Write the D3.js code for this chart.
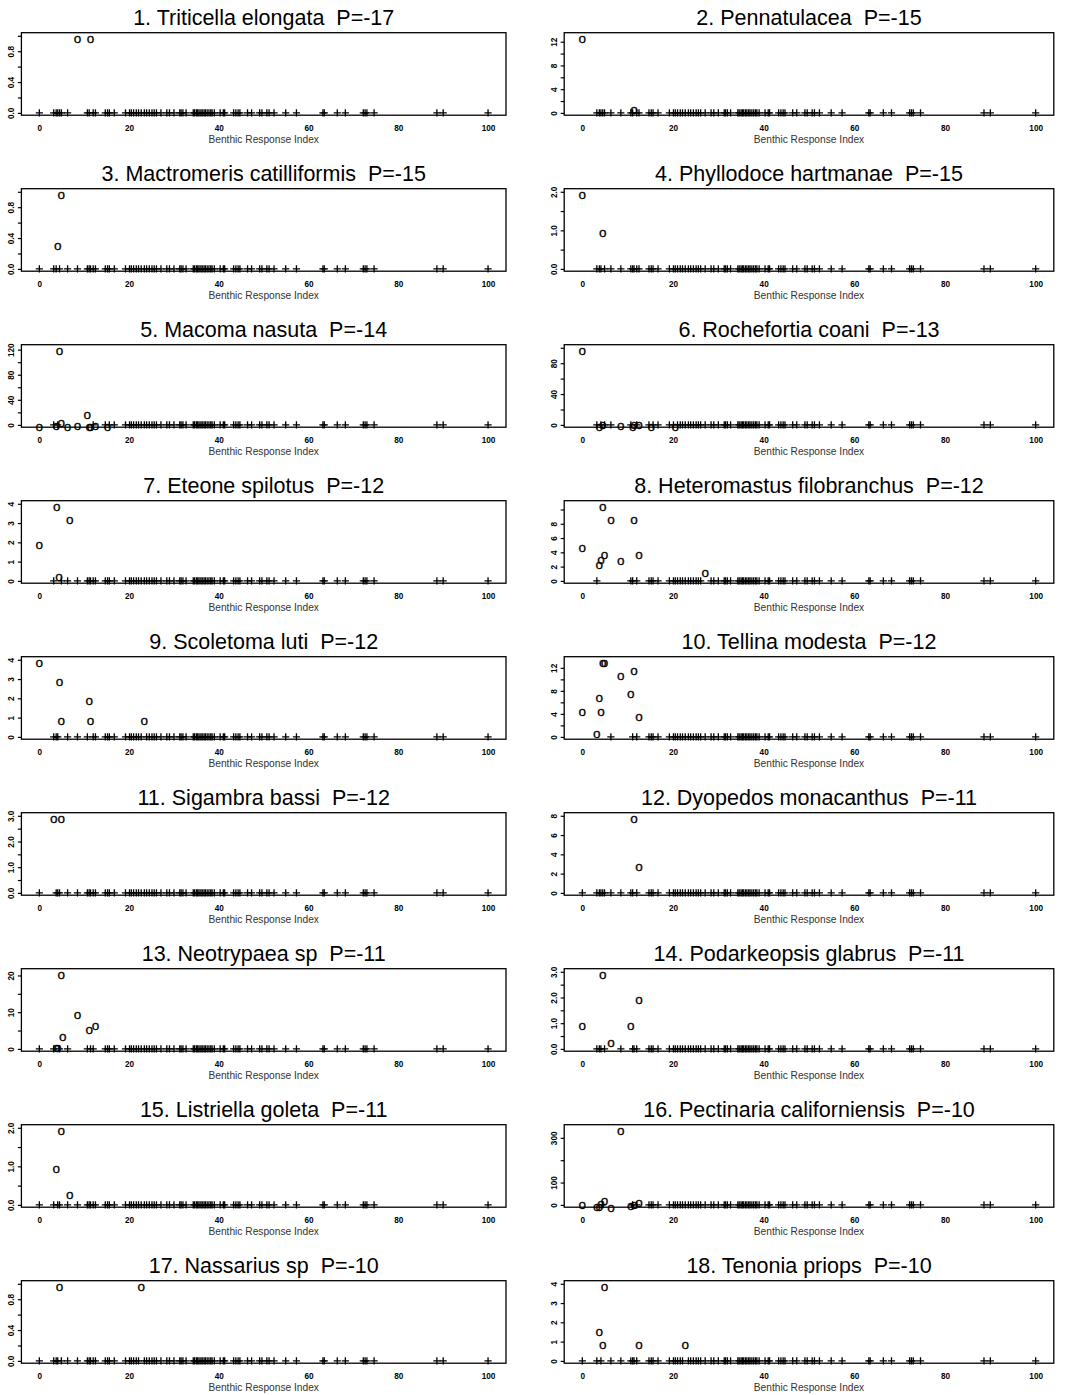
<!DOCTYPE html>
<html>
<head>
<meta charset="utf-8">
<script src="https://cdn.jsdelivr.net/npm/d3@7"></script>
<style>
  body { margin: 0; background: #fff; }
  svg { display: block; }
  text { font-family: "Liberation Sans", Arial, sans-serif; white-space: pre; }
</style>
</head>
<body>
<svg id="chart" width="1065" height="1395"></svg>
<script>
// panel titles, in order (left to right, top to bottom)
var titles = [
  "1. Triticella elongata  P=-17", "2. Pennatulacea  P=-15",
  "3. Mactromeris catilliformis  P=-15", "4. Phyllodoce hartmanae  P=-15",
  "5. Macoma nasuta  P=-14", "6. Rochefortia coani  P=-13",
  "7. Eteone spilotus  P=-12", "8. Heteromastus filobranchus  P=-12",
  "9. Scoletoma luti  P=-12", "10. Tellina modesta  P=-12",
  "11. Sigambra bassi  P=-12", "12. Dyopedos monacanthus  P=-11",
  "13. Neotrypaea sp  P=-11", "14. Podarkeopsis glabrus  P=-11",
  "15. Listriella goleta  P=-11", "16. Pectinaria californiensis  P=-10",
  "17. Nassarius sp  P=-10", "18. Tenonia priops  P=-10"
];

// benthic response index of every station (zeros are drawn as +)
var sites = [0, 3.2, 3.75, 4.1, 4.5, 4.9, 6.3, 8.5, 10.7, 11.1, 11.4, 12.0, 12.5,
  14.7, 15.2, 15.6, 16.7, 19.2, 20.1, 20.5, 21.0, 21.6, 22.1, 22.7, 23.4, 23.9,
  24.5, 25.1, 25.6, 26.1, 27.1, 28.4, 29.0, 30.0, 31.3, 31.6, 32.0, 32.7, 34.3,
  34.6, 35.0, 35.3, 35.6, 36.0, 36.3, 36.7, 37.0, 37.4, 37.8, 38.2, 38.5, 39.0,
  40.3, 41.0, 41.3, 43.3, 43.8, 44.3, 44.7, 46.4, 47.3, 49.1, 49.6, 50.7, 51.2,
  52.3, 54.9, 57.3, 63.2, 63.5, 66.4, 68.2, 72.2, 72.6, 73.0, 74.6, 88.6, 90.0, 100];

// non-zero abundances per panel: x = BRI, y = abundance
var ptX = [
  [8.5, 11.4],
  [0, 11.4],
  [4.9, 4.1],
  [0, 4.5],
  [0, 3.75, 4.5, 4.9, 6.3, 8.5, 10.7, 11.1, 11.4, 12.5, 15.2],
  [0, 3.75, 4.5, 8.5, 11.1, 11.4, 12.5, 15.2, 20.5],
  [0, 3.9, 6.8, 4.4],
  [4.5, 6.3, 11.4, 0, 4.9, 4.1, 3.75, 8.5, 12.5, 27.1],
  [0, 4.5, 4.9, 11.1, 11.4, 23.4],
  [4.5, 4.9, 8.5, 11.4, 10.7, 3.75, 0, 4.1, 12.5, 3.2],
  [3.2, 4.9],
  [11.4, 12.5],
  [4.9, 8.5, 11.1, 12.5, 5.2, 3.75, 4.1],
  [4.5, 12.5, 0, 10.7, 6.3],
  [4.9, 3.75, 6.8],
  [8.5, 0, 3.2, 3.75, 4.1, 4.9, 6.3, 11.4, 12.5, 10.7],
  [4.5, 22.7],
  [4.9, 3.75, 4.5, 12.5, 22.7]
];
var ptY = [
  [1, 1],
  [13, 1],
  [1, 0.33],
  [2, 1],
  [2, 3, 123, 8, 2, 3, 20, 2, 2, 3, 1],
  [100, 1, 4, 2, 1, 3, 4, 1, 1],
  [2, 4, 3.33, 0.33],
  [10.8, 8.9, 8.9, 5, 4.1, 3.3, 2.7, 3.2, 4.1, 1.5],
  [4, 3, 1, 2, 1, 1],
  [13.4, 13.4, 11, 12, 8, 7.2, 4.8, 4.8, 4, 1],
  [3, 3],
  [8, 3],
  [21, 10, 6, 7, 4, 1, 1],
  [3, 2, 1, 1, 0.33],
  [2, 1, 0.33],
  [345, 11, 4, 4, 16, 30, 1, 13, 20, 6],
  [1, 1],
  [4, 1.67, 1, 1, 1]
];

// y axis: tick spacing and which ticks carry a label
var yStep = [0.2, 2, 0.2, 0.5, 20, 20, 1, 2, 1, 2, 0.5, 2, 5, 0.5, 0.5, 100, 0.2, 1];
var yLab = [
  [0, 0.4, 0.8], [0, 4, 8, 12], [0, 0.4, 0.8], [0, 1, 2],
  [0, 40, 80, 120], [0, 40, 80], [0, 1, 2, 3, 4], [0, 2, 4, 6, 8],
  [0, 1, 2, 3, 4], [0, 4, 8, 12], [0, 1, 2, 3], [0, 2, 4, 6, 8],
  [0, 10, 20], [0, 1, 2, 3], [0, 1, 2], [0, 100, 300],
  [0, 0.4, 0.8], [0, 1, 2, 3, 4]
];
var yFmt = [".1f", "d", ".1f", ".1f", "d", "d", "d", "d", "d", "d", ".1f", "d", "d", ".1f", ".1f", "d", ".1f", "d"];

var xTicks = [0, 20, 40, 60, 80, 100];
var xTitle = "Benthic Response Index";

var svg = d3.select("#chart");

var colLeft = [21.4, 564.2], colRight = [506, 1053.8];
var top0 = 32.7, rowGap = 156, boxH = 82.5;

titles.forEach(function(t, i) {
  var c = i % 2, r = Math.floor(i / 2);
  var x0 = colLeft[c], x1 = colRight[c];
  var y0 = top0 + r * rowGap, y1 = y0 + boxH;

  var x = d3.scaleLinear().domain([-4, 104]).range([x0, x1]);
  var M = d3.max(ptY[i]);
  var y = d3.scaleLinear().domain([-0.03 * M, 1.04 * M]).range([y1, y0]);

  var g = svg.append("g");

  // title
  g.append("text")
    .attr("x", (x0 + x1) / 2)
    .attr("y", y0 - 7.7)
    .attr("text-anchor", "middle")
    .style("font-size", "21.5px")
    .attr("fill", "#000")
    .text(t);

  // y axis with rotated labels
  var ticks = d3.range(0, M * 1.04 + 1e-9, yStep[i]).map(function(v) { return +v.toFixed(6); });
  var fmt = d3.format(yFmt[i]);
  var ya = g.append("g")
    .attr("transform", "translate(" + x0 + ",0)")
    .call(d3.axisLeft(y).tickValues(ticks).tickSize(3.5)
      .tickFormat(function(d) {
        return yLab[i].some(function(l) { return Math.abs(l - d) < 1e-9; }) ? fmt(d) : "";
      }));
  ya.select(".domain").remove();
  ya.selectAll("line").attr("stroke", "#000").attr("stroke-width", 1.2);
  ya.selectAll("text")
    .attr("transform", "rotate(-90)")
    .attr("x", 0).attr("y", -7).attr("dy", 0)
    .style("text-anchor", "middle")
    .style("font-size", "8.2px")
    .style("font-weight", "bold")
    .attr("fill", "#000");

  // x axis: labels only
  var xa = g.append("g")
    .attr("transform", "translate(0," + y1 + ")")
    .call(d3.axisBottom(x).tickValues(xTicks).tickSize(0));
  xa.select(".domain").remove();
  xa.selectAll("text")
    .attr("y", 15.9).attr("dy", 0)
    .style("font-size", "8.2px")
    .style("font-weight", "bold")
    .attr("fill", "#000");

  g.append("text")
    .attr("x", x(50))
    .attr("y", y1 + 27.6)
    .attr("text-anchor", "middle")
    .style("font-size", "10.2px")
    .attr("fill", "#333")
    .text(xTitle);

  // zero stations as +
  var zeros = sites.filter(function(s) {
    return !ptX[i].some(function(p) { return Math.abs(p - s) < 0.2; });
  });
  g.selectAll("path.plus")
    .data(zeros)
    .enter().append("path")
      .attr("class", "plus")
      .attr("d", function(d) {
        var cx = x(d), cy = y(0);
        return "M" + (cx - 3.6) + "," + cy + "h7.2M" + cx + "," + (cy - 3.6) + "v7.2";
      })
      .attr("stroke", "#000")
      .attr("stroke-width", 1.3)
      .attr("fill", "none");

  // non-zero values as o
  var pts = ptX[i].map(function(v, k) { return {x: v, y: ptY[i][k]}; });
  g.selectAll("text.pt")
    .data(pts)
    .enter().append("text")
      .attr("class", "pt")
      .attr("x", function(d) { return x(d.x); })
      .attr("y", function(d) { return y(d.y) + 6.9; })
      .attr("text-anchor", "middle")
      .style("font-size", "13.5px")
      .attr("fill", "#000")
      .attr("stroke", "#000")
      .attr("stroke-width", 0.3)
      .text("o");

  // plot frame
  g.append("rect")
    .attr("x", x0).attr("y", y0)
    .attr("width", x1 - x0).attr("height", y1 - y0)
    .attr("fill", "none")
    .attr("stroke", "#000")
    .attr("stroke-width", 1.3);
});
</script>
</body>
</html>
